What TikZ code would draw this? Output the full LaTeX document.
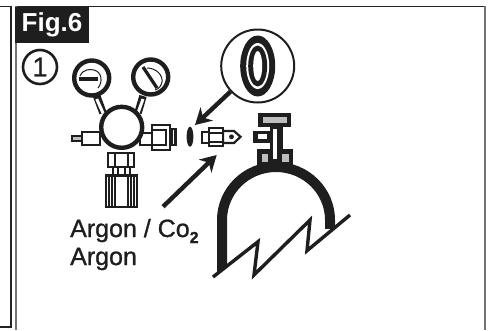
\documentclass[tikz,border=0pt]{standalone}
\usepackage{fontspec}
\setmainfont{Liberation Sans}
\newfontfamily\gruesa{Liberation Sans}[RawFeature={embolden=1}]
\usetikzlibrary{arrows.meta}
\definecolor{marcogris}{RGB}{115,115,115}
\definecolor{marconegro}{RGB}{35,35,35}
\definecolor{tinta}{RGB}{30,30,30}
\definecolor{rellenogris}{RGB}{190,190,190}
\tikzset{
  pieza/.style={draw=tinta, line width=2.2pt, fill=white},
  bloque/.style={fill=tinta},
  hueco/.style={fill=rellenogris},
  flecha/.style={draw=tinta, line width=4.4pt, -{Stealth[length=16pt,width=18pt,inset=5pt]}},
  rotulo/.style={anchor=base west, inner sep=0pt, text=tinta, font=\gruesa\fontsize{25}{25}\selectfont}
}
\begin{document}
\begin{tikzpicture}[x=1pt, y=-1pt]
  \useasboundingbox (0,0) rectangle (494,330);
  % marcos
  \draw[marconegro, line width=1.2pt] (0,6.5) -- (11,6.5) -- (11,327) -- (0,327);
  \draw[marconegro, line width=1.2pt] (16,6.5) -- (485,6.5);
  \draw[marcogris, line width=2.4pt] (16,6) -- (16,330);
  \draw[marcogris, line width=2pt] (485,6) -- (485,330);
  \node[fill=tinta, text=white, inner sep=0pt, minimum width=74pt, minimum height=36pt, font=\bfseries\fontsize{26}{26}\selectfont] (figura) at (52,25) {Fig.6};
  \node[circle, draw=tinta, line width=2.6pt, minimum size=34pt, inner sep=0pt, text=tinta, font=\gruesa\fontsize{27}{27}\selectfont] (paso) at (40,67) {1};
  % manometros
  \foreach \xa/\xb in {96.7/103, 143/138} { \draw[tinta, line width=7.5pt] (\xa,96) -- (\xb,113); \draw[white, line width=3pt] (\xa,99) -- (\xb,113); }
  \foreach \n/\x/\y in {manoa/91.7/78, manob/150.7/77} { \node[circle, draw=tinta, line width=4.4pt, fill=white, minimum size=35pt, inner sep=0pt] (\n) at (\x,\y) {}; }
  \draw[tinta, line width=3.2pt] (79,79) -- (98,79);
  \draw[tinta, line width=1pt] (80,76) .. controls (83,69) and (90,69) .. (94,70) .. controls (102,72) and (103,82) .. (98,88);
  \draw[tinta, line width=3.2pt] (143,67) -- (157,88);
  \draw[tinta, line width=1pt] (147,68) .. controls (156,68) and (163,75) .. (162,82) .. controls (161,86) and (159,89) .. (155,90);
  % regulador
  \draw[pieza] (81.7,131.7) rectangle (100,145);
  \fill[rellenogris] (72,136) rectangle (82,141);
  \draw[tinta, line width=1.8pt] (72,136) rectangle (82,141);
  \draw[pieza] (140,133) rectangle (153,145);
  \fill[bloque] (170,128) rectangle (177,146);
  \fill[white] (172.5,130) rectangle (174,144);
  \draw[pieza] (152,125) rectangle (170,150);
  \draw[pieza] (152,130) rectangle (166,145);
  \draw[pieza] (113,165) rectangle (130,176);
  \draw[pieza] (108,153) rectangle (134,167);
  \foreach \x in {115,128} { \draw[tinta, line width=2pt] (\x,153) -- (\x,167); }
  \foreach \x in {118,125} { \draw[tinta, line width=1.4pt] (\x,167) -- (\x,176); }
  \draw[pieza, line width=2.6pt] (106,175.5) rectangle (137,207);
  \foreach \x in {109,112,115,128,131,134} { \draw[tinta, line width=1.5pt] (\x,175) -- (\x,207); }
  \node[circle, draw=tinta, line width=4.4pt, fill=white, minimum size=41pt, inner sep=0pt] (cuerpo) at (121.7,127.3) {};
  % junta y racor
  \fill[tinta] (190,136.7) ellipse [x radius=3.4, y radius=10];
  \draw[pieza] (201.7,132) rectangle (209,143);
  \draw[pieza] (223,131) -- (234,131) -- (240.5,136.8) -- (234,143) -- (223,143) -- cycle;
  \draw[pieza] (209,128) rectangle (223,146);
  \draw[tinta, line width=1.6pt] (209,133) -- (223,133) (209,142) -- (223,142);
  \fill[tinta] (231.5,136.8) circle (2.4);
  % lupa
  \node[circle, draw=tinta, line width=2pt, fill=white, minimum size=73pt, inner sep=0pt] (lupa) at (257.7,66) {};
  \fill[tinta] (lupa.center) ellipse [x radius=17.5, y radius=30.5];
  \fill[white] (lupa.center) ellipse [x radius=11.5, y radius=23];
  \fill[tinta] (lupa.center) ellipse [x radius=9.5, y radius=20.5];
  \fill[white] (lupa.center) ellipse [x radius=4.5, y radius=15];
  % flechas
  \coordinate (puntaa) at (195,125);
  \coordinate (colab) at (163,206.7);
  \coordinate (puntab) at (216.7,155);
  \draw[flecha] (lupa) -- (puntaa);
  \draw[flecha] (colab) -- (puntab);
  % botella
  \begin{scope}
    \clip (213,277) -- (258,241.7) -- (254,275) -- (310,220) -- (307,250.7) -- (350,215) -- (350,100) -- (200,100) -- (200,277) -- cycle;
    \draw[tinta, line width=10pt] (222,290) -- (222,220) .. controls (222,191) and (246,167) .. (276,167) .. controls (306,167) and (330,191) .. (330,220) -- (330,232);
  \end{scope}
  \fill[white] (325,229) -- (336,229) -- (336,230) -- (325,240) -- cycle;
  \draw[tinta, line width=3.4pt] (213,277) -- (258,241.7) -- (254,275) -- (310,220) -- (307,250.7) -- (350,215);
  % valvula
  \fill[bloque] (258,112.7) rectangle (291,127.3);
  \fill[hueco] (263,117) rectangle (287,123);
  \fill[bloque] (270,127) rectangle (282.7,150);
  \fill[bloque] (253,130.7) rectangle (270,143);
  \fill[white] (258,134) rectangle (267,139);
  \fill[bloque] (257,149) rectangle (293,165);
  \fill[white] (273,129) rectangle (277,159);
  \fill[hueco] (262,154) rectangle (268,162);
  \fill[hueco] (282,154) rectangle (289,162);
  % textos
  \node[rotulo] (gasa) at (70,237) {Argon / Co\raisebox{-6pt}{\bfseries\fontsize{16}{16}\selectfont 2}};
  \node[rotulo] (gasb) at (70,265) {Argon};
\end{tikzpicture}
\end{document}
